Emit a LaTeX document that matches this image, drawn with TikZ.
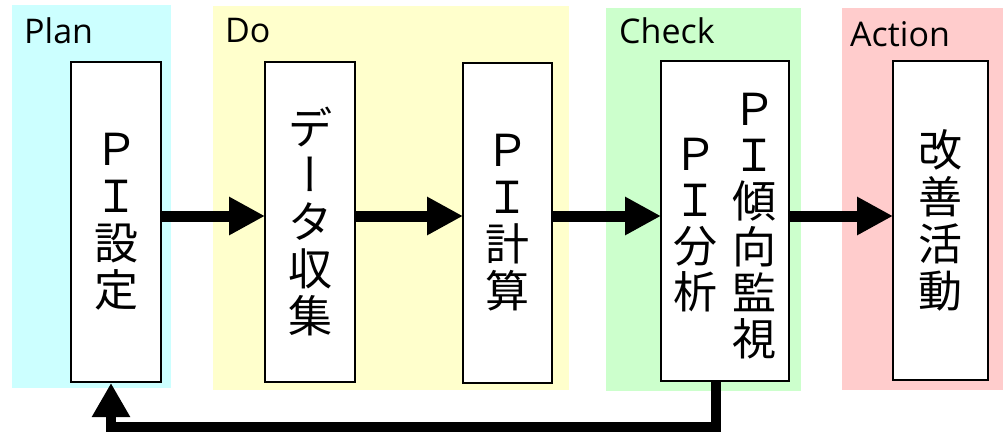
\documentclass[tikz,border=0pt]{standalone}
\usepackage{fontspec}
\usetikzlibrary{arrows.meta}
\newfontfamily\latf{Open Sans}
\newfontfamily\jpf{Noto Sans CJK JP}
\newfontfamily\jpvf[RawFeature=+vert]{Noto Sans CJK JP}
\definecolor{planbg}{HTML}{CCFFFF}
\definecolor{dobg}{HTML}{FFFFCC}
\definecolor{checkbg}{HTML}{CCFFCC}
\definecolor{actbg}{HTML}{FFCCCC}
\tikzset{
  phasebox/.style={draw=none,fill=#1,inner sep=0,outer sep=0,anchor=north west},
  phaselabel/.style={anchor=base west,inner sep=0,font=\latf\fontsize{34}{40}\selectfont},
  stepbox/.style={draw=black,line width=2pt,fill=white,inner sep=0,outer sep=0,
    align=center,font=\jpf\fontsize{44}{47}\selectfont},
  vtext/.style={inner sep=0,align=center,font=\jpf\fontsize{44}{46}\selectfont},
  flow/.style={line width=11pt,-{Triangle[length=36pt,width=36pt]}},
  feedback/.style={line width=10pt,line join=miter,-{Triangle[length=34pt,width=36pt]}}
}
\begin{document}
\begin{tikzpicture}[x=1pt,y=-1pt]
\useasboundingbox (0,0) rectangle (1003,432);
% phase backgrounds
\node[phasebox=planbg,minimum width=159pt,minimum height=383pt] (planbg) at (12,5) {};
\node[phasebox=dobg,minimum width=356pt,minimum height=384pt] (dobg) at (213,6) {};
\node[phasebox=checkbg,minimum width=195pt,minimum height=383pt] (checkbg) at (606,8) {};
\node[phasebox=actbg,minimum width=161pt,minimum height=382pt] (actbg) at (842,8) {};
% phase labels
\node[phaselabel] (planlbl) at (24,43) {Plan};
\node[phaselabel] (dolbl) at (225,42) {Do};
\node[phaselabel] (checklbl) at (619,43) {Check};
\node[phaselabel] (actlbl) at (850,46) {Action};
% step boxes
\node[stepbox,minimum width=90pt,minimum height=320pt] (plan) at (116,222) {Ｐ\\Ｉ\\設\\定};
\node[stepbox,minimum width=90pt,minimum height=320pt] (data) at (310,221.5) {デ\\{\jpvf ー}\\タ\\収\\集};
\node[stepbox,minimum width=89pt,minimum height=320pt] (calc) at (507.5,222.5) {Ｐ\\Ｉ\\計\\算};
\node[stepbox,minimum width=128pt,minimum height=320pt] (check) at (725,221) {};
\node[vtext] (checkR) at (754,226) {Ｐ\\Ｉ\\傾\\向\\監\\視};
\node[vtext] (checkL) at (695,225) {Ｐ\\Ｉ\\分\\析};
\node[stepbox,minimum width=95pt,minimum height=319pt] (act) at (940.5,220.5) {改\\善\\活\\動};
% flow arrows
\coordinate (arrowy) at (0,216);
\draw[flow] (plan.east |- arrowy) -- (data.west |- arrowy);
\draw[flow] (data.east |- arrowy) -- (calc.west |- arrowy);
\draw[flow] (calc.east |- arrowy) -- (check.west |- arrowy);
\draw[flow] (check.east |- arrowy) -- (act.west |- arrowy);
% feedback
\coordinate (fbstart) at (716,381);
\coordinate (fbmid) at (400,427);
\coordinate (fbend) at (111,383);
\draw[feedback] (fbstart) |- (fbmid) -| (fbend);
\end{tikzpicture}
\end{document}
